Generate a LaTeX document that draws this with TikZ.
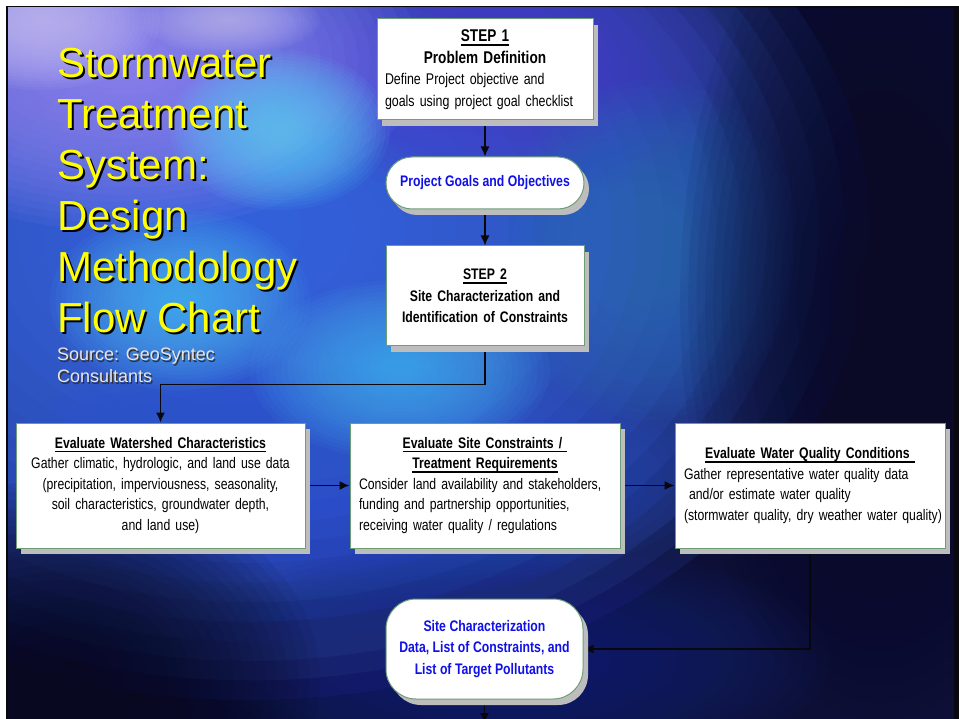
\documentclass[tikz,border=0pt]{standalone}
\usepackage{fontspec}
\setmainfont{Liberation Sans}
\newfontfamily\narrowfont[FakeStretch=0.80]{Liberation Sans}
\usetikzlibrary{arrows.meta,shadows}

\definecolor{titleyellow}{HTML}{FFFF00}
\definecolor{sourcegray}{HTML}{E6E6EE}
\definecolor{boxedge}{HTML}{6E9E76}
\definecolor{boxshadow}{HTML}{BDBDBD}
\definecolor{pillblue}{HTML}{1010E8}
\definecolor{linkblack}{HTML}{08080C}
\definecolor{bgbase}{HTML}{0D0F36}
\definecolor{slideedge}{HTML}{08080E}
% cloud colours of the backdrop
\definecolor{cloudBlue}{HTML}{3A68E6}
\definecolor{cloudLav}{HTML}{9A88F4}
\definecolor{cloudPale}{HTML}{C8C0F8}
\definecolor{cloudCyanA}{HTML}{5CCCF8}
\definecolor{cloudCyanB}{HTML}{4EC0F8}
\definecolor{cloudCyanC}{HTML}{48B8F4}
\definecolor{cloudPurple}{HTML}{4C3CCC}
\definecolor{cloudTeal}{HTML}{2A6CB8}
\definecolor{cloudBand}{HTML}{2C52D8}
\definecolor{cloudDeep}{HTML}{1A2A8C}
\definecolor{cloudNight}{HTML}{080820}
\definecolor{cloudDusk}{HTML}{0A0A26}

% condensed box lettering with tight word spaces
\newcommand\boxfont[2]{\narrowfont\fontsize{#1}{#2}\selectfont\spaceskip=3.5pt plus 1pt minus .5pt\relax}
% underlined heading with a firm rule just below the baseline
\newsavebox\headbox
\newcommand\headline[2][1.6pt]{\leavevmode\sbox\headbox{#2}\rlap{\usebox\headbox}\rule[\dimexpr-2.2pt-#1\relax]{\wd\headbox}{#1}}
% soft coloured cloud built from stacked translucent ellipses
\newcommand\glow[6]{%
  \foreach \k in {1,...,24}{%
    \fill[#5,fill opacity=#6] (#1,#2) ellipse [x radius={#3*\k/24*1pt}, y radius={#4*\k/24*1pt}];}}

\pgfdeclarelayer{backdrop}
\pgfdeclarelayer{links}
\pgfsetlayers{backdrop,links,main}

\tikzset{
  box/.style={draw=boxedge, line width=1pt, fill=white, inner sep=0pt,
    drop shadow={shadow xshift=5pt, shadow yshift=-6pt, fill=boxshadow, opacity=1},
    font={\boxfont{15.3}{20.5}}, text=black},
  pill/.style={box, text=pillblue, align=center,
    font={\boxfont{15.3}{21.5}\bfseries}},
  link/.style={draw=linkblack, line width=1.3pt, -{Latex[length=10pt,width=9pt]}},
  titletext/.style={anchor=base west, inner sep=0pt, text=titleyellow,
    font=\fontsize{42}{51}\selectfont},
  titleshadow/.style={titletext, text=black},
  sourcetext/.style={anchor=base west, inner sep=0pt, text=sourcegray,
    font=\fontsize{18}{21}\selectfont},
  sourceshadow/.style={sourcetext, text=black!80},
}

\begin{document}
\begin{tikzpicture}[x=1pt,y=-1pt]
\useasboundingbox (0,0) rectangle (959,719);

\begin{pgfonlayer}{backdrop}
  \fill[white] (0,0) rectangle (959,719);
  \fill[slideedge] (6,6) rectangle (959,719);
  \fill[bgbase] (8,8) rectangle (954,719);
  \begin{scope}
    \clip (8,8) rectangle (954,719);
    \glow{250}{230}{620}{470}{cloudBlue}{.12}
    \glow{330}{480}{380}{120}{cloudBand}{.06}
    \glow{500}{660}{330}{120}{cloudDeep}{.05}
    \glow{500}{60}{240}{140}{cloudPurple}{.07}
    \glow{650}{250}{150}{170}{cloudTeal}{.07}
    \glow{120}{60}{300}{170}{cloudLav}{.08}
    \glow{40}{20}{120}{70}{cloudPale}{.07}
    \glow{230}{20}{90}{35}{cloudPale}{.05}
    \glow{280}{130}{110}{80}{cloudCyanA}{.07}
    \glow{180}{300}{130}{90}{cloudCyanB}{.06}
    \glow{400}{370}{150}{90}{cloudCyanC}{.06}
    \glow{60}{680}{260}{200}{cloudNight}{.07}
    \glow{880}{300}{200}{420}{cloudDusk}{.07}
  \end{scope}
\end{pgfonlayer}

% title block
\foreach \txt [count=\i] in {Stormwater,Treatment,System:,Design,Methodology,Flow Chart}{
  \node[titleshadow] (tsh\i) at (59,{80+51*(\i-1)}) {\txt};
  \node[titletext] (ttl\i) at (57,{78+51*(\i-1)}) {\txt};
}
\node[sourceshadow] (srcsh1) at (58.2,362.2) {Source: GeoSyntec};
\node[sourcetext] (src1) at (57,361) {Source: GeoSyntec};
\node[sourceshadow] (srcsh2) at (58.2,384.2) {Consultants};
\node[sourcetext] (src2) at (57,383) {Consultants};

% flow chart boxes
\node[box, minimum width=216pt, minimum height=101pt, text width=200pt, align=left,
      font={\boxfont{15.5}{21.5}}] (step1) at (485,69.5) {%
  {\centering\fontsize{17}{21.5}\selectfont\bfseries\headline[2.2pt]{STEP 1}\par Problem Definition\par}%
  \mbox{Define Project objective and}\\ \mbox{goals using project goal checklist}};

\node[pill, minimum width=198pt, minimum height=52pt, rounded corners=26pt] (goals)
  at (485,183) {Project Goals and Objectives};

\node[box, minimum width=198pt, minimum height=100pt, text width=190pt, align=center,
      font={\boxfont{15.3}{21.5}\bfseries}] (step2) at (485,296) {%
  \headline{STEP 2}\\ Site Characterization and\\ Identification of Constraints};

\node[box, minimum width=289pt, minimum height=125pt, text width=280pt, align=center] (shed)
  at (160.5,485.5) {%
  {\bfseries\headline{Evaluate Watershed Characteristics}}\\
  Gather climatic, hydrologic, and land use data\\
  (precipitation, imperviousness, seasonality,\\
  soil characteristics, groundwater depth,\\
  and land use)};

\node[box, minimum width=270pt, minimum height=125pt, text width=252pt, align=left] (site)
  at (485,485.5) {%
  {\centering\bfseries\headline{Evaluate Site Constraints /\ }\par\headline{Treatment Requirements}\par}%
  \mbox{Consider land availability and stakeholders,}\\
  \mbox{funding and partnership opportunities,}\\
  \mbox{receiving water quality / regulations}};

\node[box, minimum width=270pt, minimum height=125pt, text width=252pt, align=left] (wq)
  at (810,485.5) {%
  {\centering\bfseries\headline{Evaluate Water Quality Conditions\ }\par}%
  \mbox{Gather representative water quality data}\\
  \mbox{\ and/or estimate water quality}\\
  \mbox{(stormwater quality, dry weather water quality)}};

\node[pill, minimum width=197pt, minimum height=100pt, rounded corners=30pt] (data)
  at (484.5,649) {Site Characterization\\ Data, List of Constraints, and\\ List of Target Pollutants};

\coordinate (exit) at (484.5,723);

% connectors
\begin{pgfonlayer}{links}
  \draw[link] (step1) -- (goals);
  \draw[link] (goals) -- (step2);
  \draw[link] (step2.south) -- ++(0,38) -| (shed.north);
  \draw[link] (shed) -- (site);
  \draw[link] (site) -- (wq);
  \draw[link] (wq.south) |- (data.east);
  \draw[link] (data.south) -- (exit);
\end{pgfonlayer}
\end{tikzpicture}
\end{document}
